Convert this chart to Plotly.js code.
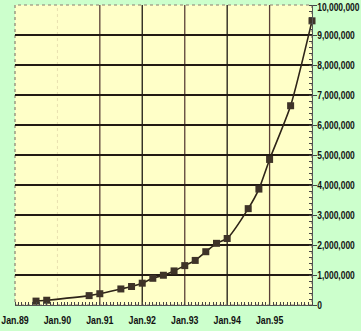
<!DOCTYPE html>
<html>
<head>
<meta charset="utf-8">
<script src="https://cdn.plot.ly/plotly-3.0.1.min.js"></script>
<style>
html,body{margin:0;padding:0;background:#ccffcc;}
#chart{width:361px;height:331px;}
</style>
</head>
<body>
<div id="chart"></div>
<script>
// Internet hosts (approx.)
var dates = ["1989-07-01","1989-10-01","1990-10-01","1991-01-01","1991-07-01","1991-10-01",
             "1992-01-01","1992-04-01","1992-07-01","1992-10-01","1993-01-01","1993-04-01",
             "1993-07-01","1993-10-01","1994-01-01","1994-07-01","1994-10-01","1995-01-01",
             "1995-07-01","1996-01-01"];
var hosts = [130000,159000,313000,376000,535000,617000,
             727000,890000,992000,1136000,1313000,1486000,
             1776000,2056000,2217000,3212000,3864000,4852000,
             6642000,9472000];
var tickDates = ["1989-01-01","1990-01-01","1991-01-01","1992-01-01","1993-01-01","1994-01-01","1995-01-01"];
var tickText = ["Jan.89","Jan.90","Jan.91","Jan.92","Jan.93","Jan.94","Jan.95"];
var yTicks = [0,1000000,2000000,3000000,4000000,5000000,6000000,7000000,8000000,9000000,10000000];
var yText = ["0","1,000,000","2,000,000","3,000,000","4,000,000","5,000,000","6,000,000","7,000,000","8,000,000","9,000,000","10,000,000"];
var gridYears = ["1991-01-01","1992-01-01","1993-01-01","1994-01-01","1995-01-01"];

var font = {family: "'Liberation Sans', Arial, sans-serif", size: 11, color: "#111", weight: "bold"};

var shapes = [];
gridYears.forEach(function(d, i){
  shapes.push({type:"line", xref:"x", yref:"paper", x0:d, x1:d, y0:0, y1:1,
    line:{color: (i%2==0) ? "#5a4038" : "#1e1a14", width:1.3}, layer:"below"});
});
shapes.push({type:"line", xref:"x", yref:"paper", x0:"1990-01-01", x1:"1990-01-01", y0:0, y1:1,
  line:{color:"#e8e0b0", width:1, dash:"dot"}, layer:"below"});
shapes.push({type:"line", xref:"paper", yref:"y", x0:0, x1:1, y0:8000000, y1:8000000,
  line:{color:"#2a1810", width:2}, layer:"below"});
shapes.push({type:"rect", xref:"paper", yref:"paper", x0:0, x1:1, y0:0, y1:1,
  line:{color:"#8a8070", width:1.2, dash:"dot"}, layer:"below"});

var trace = {
  x: dates, y: hosts, type: "scatter", mode: "lines+markers",
  line: {color: "#2e2418", width: 1.6, shape: "spline", smoothing: 0.6},
  marker: {symbol: "square", size: 7, color: "#3e3328", line:{width:0}},
  cliponaxis: false
};

var layout = {
  width: 361, height: 331,
  margin: {l: 15, r: 49, t: 5, b: 26},
  paper_bgcolor: "#ccffcc",
  plot_bgcolor: "#ffffc8",
  showlegend: false,
  font: font,
  xaxis: {
    type: "date", range: ["1989-01-01","1996-01-01"],
    tickvals: tickDates, ticktext: tickText, showgrid: false,
    ticks: "", showline: true, linecolor: "#555", linewidth: 1,
    tickfont: font, zeroline: false, ticklabeloverflow: "allow", ticklabelstandoff: 5,
    minor: {dtick: "M1", tick0: "1989-01-01", ticks: "inside", ticklen: 3, tickcolor: "#444", showgrid: false}
  },
  yaxis: {
    range: [0, 10000000], side: "right", tickvals: yTicks, ticktext: yText,
    showgrid: true, gridcolor: "#221a14", gridwidth: 1.2,
    ticks: "outside", ticklen: 4, tickcolor: "#444",
    showline: true, linecolor: "#555", linewidth: 1, zeroline: false,
    tickfont: font, ticklabeloverflow: "allow",
    minor: {dtick: 200000, ticks: "inside", ticklen: 3, tickcolor: "#444", showgrid: false}
  },
  shapes: shapes
};

Plotly.newPlot("chart", [trace], layout, {staticPlot: true, displayModeBar: false}).then(function(gd){
  // condense tick labels horizontally (narrow face of the original), anchored at each label's own x
  gd.querySelectorAll(".xtick text").forEach(function(t){
    var x0 = parseFloat(t.getAttribute("x")) || 0;
    var tr = t.getAttribute("transform") || "";
    t.setAttribute("transform", tr + " translate(" + x0 + ",0) scale(0.8,1) translate(" + (-x0) + ",0)");
  });
  gd.querySelectorAll(".ytick text").forEach(function(t){
    var x0 = parseFloat(t.getAttribute("x")) || 0;
    var tr = t.getAttribute("transform") || "";
    var dy = (t.textContent === yText[yText.length - 1]) ? 2 : 0;
    t.setAttribute("transform", tr + " translate(" + (x0 - 2) + "," + dy + ") scale(0.77,1) translate(" + (-x0) + ",0)");
  });
});
</script>
</body>
</html>
